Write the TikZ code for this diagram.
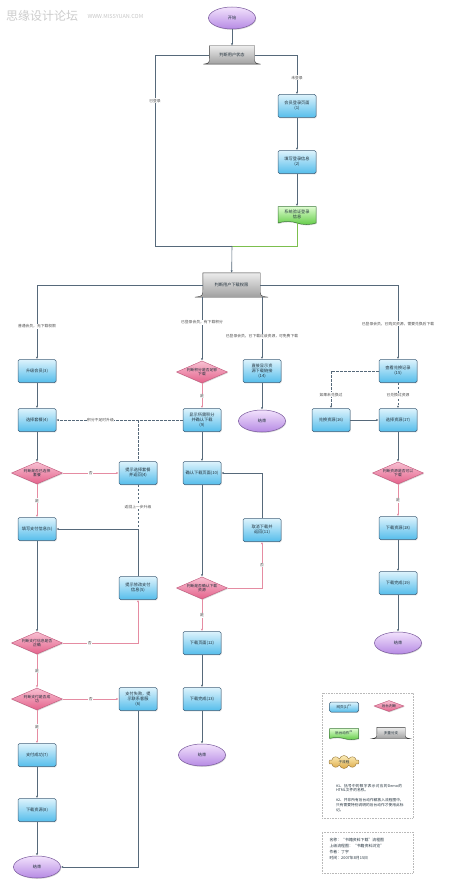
\documentclass[tikz,border=0pt]{standalone}
\usepackage{fontspec}
\setmainfont{Noto Sans CJK SC}
\XeTeXlinebreaklocale "zh"
\XeTeXlinebreakskip=0pt plus 1pt
\usepackage{xcolor}
\usetikzlibrary{arrows.meta, shapes.geometric, shapes.symbols, shadows, backgrounds}

\definecolor{linegray}{HTML}{56697A}
\definecolor{pinkline}{HTML}{E58CA2}
\definecolor{greenline}{HTML}{7CBF4E}
\definecolor{textdark}{HTML}{22313C}
\definecolor{pagetop}{HTML}{DDF3FC}
\definecolor{pagebot}{HTML}{55BDEB}
\definecolor{pageline}{HTML}{40607A}
\definecolor{dectop}{HTML}{F8C0D2}
\definecolor{decbot}{HTML}{E4628B}
\definecolor{decline}{HTML}{BE5578}
\definecolor{termtop}{HTML}{F2E2FC}
\definecolor{termbot}{HTML}{B68AE4}
\definecolor{termline}{HTML}{76569A}
\definecolor{acttop}{HTML}{DDFCCF}
\definecolor{actbot}{HTML}{62CC46}
\definecolor{actline}{HTML}{3C7A38}
\definecolor{subtop}{HTML}{FCEDB8}
\definecolor{subbot}{HTML}{DDAA48}
\definecolor{subline}{HTML}{957538}

\begin{document}
\begin{tikzpicture}[
    x=1pt, y=-1pt,
    every node/.style={font=\fontsize{4.2}{5}\selectfont, text=textdark},
    shade/.style={drop shadow={opacity=0.3, shadow xshift=0.7pt, shadow yshift=-0.9pt}},
    page/.style={draw=pageline, line width=0.5pt, rounded corners=1.5pt, top color=pagetop, bottom color=pagebot, align=center, minimum width=38pt, minimum height=23pt, inner sep=1pt, shade},
    decide/.style={diamond, aspect=2.3, draw=decline, line width=0.4pt, top color=dectop, bottom color=decbot, align=center, minimum width=51pt, minimum height=22pt, inner sep=0.3pt, font=\fontsize{3.8}{4.6}\selectfont, shade},
    term/.style={ellipse, draw=termline, line width=0.5pt, top color=termtop, bottom color=termbot, minimum width=47pt, minimum height=22pt, shade},
    action/.style={tape, tape bend top=none, tape bend bottom=out and in, tape bend height=3pt, draw=actline, line width=0.5pt, top color=acttop, bottom color=actbot, align=center, minimum width=38pt, minimum height=18pt, inner sep=1pt, shade},
    subflow/.style={cloud, cloud puffs=10, aspect=2.6, draw=subline, line width=0.4pt, top color=subtop, bottom color=subbot, minimum width=30pt, minimum height=13pt, inner sep=0pt, font=\fontsize{3.6}{4.2}\selectfont},
    branch/.style={align=center, inner sep=0pt},
    branchfill/.style={draw=gray!45!black, line width=0.4pt, top color=gray!15, bottom color=gray!75},
    lbl/.style={fill=white, inner sep=0.6pt, font=\fontsize{3.8}{4.4}\selectfont, text=gray!60!black},
    line/.style={draw=linegray, line width=0.6pt},
    flow/.style={line, -{Latex[length=2.4pt, width=2.2pt]}},
    okline/.style={draw=greenline, line width=0.6pt},
    yes/.style={draw=pinkline, line width=0.5pt, -{Latex[length=2.4pt, width=2.2pt]}},
    no/.style={yes},
    dline/.style={flow, dashed, dash pattern=on 2.5pt off 1.5pt},
    frame/.style={draw=gray!55, densely dotted, line width=0.6pt, minimum width=91pt},
    note/.style={align=left, text width=68pt, font=\fontsize{3.7}{4.6}\selectfont}
]
\useasboundingbox (0,0) rectangle (450,888);

% watermark
\node[font=\fontsize{12}{12}\selectfont, text=gray!40] (mark) at (42,16) {思缘设计论坛};
\node[font=\fontsize{5.5}{6}\selectfont, text=gray!45, anchor=west] (url) at (84,16.5) {WWW.MISSYUAN.COM};

% top part
\node[term] (start) at (232,18) {开始};
\node[branch, minimum width=45pt, minimum height=18pt] (sel1) at (232,55) {判断用户状态};
\node[page] (p1) at (297,106) {会员登录页面\\(1)};
\node[page] (p2) at (297,162) {填写登录信息\\(2)};
\node[action] (act1) at (297,214) {系统验证登录\\信息};
\node[branch, minimum width=57pt, minimum height=24pt] (sel2) at (231.5,285) {判断用户下载权限};

% left column
\node[page] (l1) at (37,371) {升级会员(3)};
\node[page] (l2) at (37,420) {选择套餐(4)};
\node[decide] (ld1) at (37,473) {判断是否已选择\\套餐};
\node[page] (l4) at (138,473) {提示选择套餐\\并返回(4)};
\node[page] (l3) at (37,529) {填写支付信息(5)};
\node[page] (l5) at (138,588) {提示修改支付\\信息(5)};
\node[decide] (ld2) at (37,643) {判断支付信息是否\\正确};
\node[decide] (ld3) at (37,699) {判断支付是否成\\功};
\node[page] (l6) at (138,699) {支付失败，提\\示联系客服\\(6)};
\node[page] (l7) at (37,755) {支付成功(7)};
\node[page] (l8) at (37,810) {下载资源(8)};
\node[term] (end1) at (37,867) {结束};

% middle columns
\node[decide] (md1) at (202,372) {判断积分是否足够\\下载};
\node[page] (m3) at (202,420) {显示所需积分\\并确认下载\\(9)};
\node[page] (m4) at (202,473) {确认下载页面(10)};
\node[page] (m5) at (262,530) {取消下载并\\返回(11)};
\node[decide] (md2) at (202,588) {判断是否确认下载\\资源};
\node[page] (m6) at (202,643) {下载页面(12)};
\node[page] (m7) at (202,699) {下载完成(13)};
\node[term] (end2) at (202,755) {结束};
\node[page] (m2) at (262,371) {直接显示资\\源下载链接\\(14)};
\node[term] (end3) at (262,421) {结束};

% right column
\node[page] (r1) at (398,371) {查看兑换记录\\(15)};
\node[page] (r2) at (331,420) {兑换资源(16)};
\node[page] (r3) at (398,420) {选择资源(17)};
\node[decide] (rd) at (398,473) {判断资源是否可以\\下载};
\node[page] (r4) at (398,528) {下载资源(18)};
\node[page] (r5) at (398,583) {下载完成(19)};
\node[term] (end4) at (398,643) {结束};

% legend
\node[frame, minimum height=125pt] (legend) at (367.5,755.5) {};
\node[page, minimum width=29pt, minimum height=10pt, font=\fontsize{3.6}{4.2}\selectfont] (lpage) at (344,707) {网页(1)\textsuperscript{\#1}};
\node[decide, minimum width=30pt, minimum height=11pt, font=\fontsize{3.6}{4.2}\selectfont] (ldec) at (389,706) {后台判断};
\node[action, minimum width=29pt, minimum height=11pt, tape bend height=2pt, font=\fontsize{3.6}{4.2}\selectfont] (lact) at (344,733) {后台动作\textsuperscript{\#2}};
\node[branch, minimum width=28pt, minimum height=11pt, font=\fontsize{3.6}{4.2}\selectfont] (lsel) at (391,733) {多重分支};
\node[subflow] (lsub) at (344,762) {子流程};
\node[note] (note1) at (370,788) {\#1、括号中的数字表示对应的Demo的HTML文件的名称。};
\node[note] (note2) at (370,805) {\#2、并非所有后台动作都放入流程图中，只有需要特别说明的后台动作才使用此标记。};
\node[frame, minimum height=41pt] (footer) at (367.5,852.5) {};
\node[align=left, anchor=west, font=\fontsize{3.9}{5.8}\selectfont] (info) at (326,849) {名称：“书籍资料下载”流程图\\上级流程图：“书籍资料浏览”\\作者：丁宇\\时间：2007年8月15日};

% multi-branch shapes
\begin{scope}[on background layer]
\foreach \n/\f in {sel1/6pt, sel2/8pt, lsel/5pt} {
  \path[branchfill] (\n.north west) -- ([yshift=\f]\n.south west)
    .. controls ([yshift=1pt]\n.south west) .. ([xshift=-\f]\n.south west)
    -- ([xshift=\f]\n.south east)
    .. controls ([yshift=1pt]\n.south east) .. ([yshift=\f]\n.south east)
    -- (\n.north east) -- cycle;
}
\end{scope}

% top connectors
\coordinate (merge) at (232,246);
\coordinate (bypass) at (155,246);
\draw[flow] (start) -- (sel1);
\draw[flow] (sel1.east) -| node[lbl, pos=0.79]{未登录} (p1);
\draw[flow] (p1) -- (p2);
\draw[flow] (p2) -- (act1);
\draw[line] (sel1.west) -| node[lbl, pos=0.62]{已登录} (bypass) -- (merge);
\draw[okline] (act1) |- (merge);
\draw[flow] (merge) -- (sel2);

\draw[flow] (sel2.west) -| node[lbl, pos=0.78]{普通会员，无下载权限} (l1);
\draw[flow] (sel2.east) -| node[lbl, pos=0.76]{已登录会员，已购买资源，需要兑换后下载} (r1);
\draw[flow] (sel2.south -| md1) -- node[lbl, pos=0.4]{已登录会员，有下载积分} (md1);
\draw[flow] (sel2.south -| m2) -- node[lbl, pos=0.63]{已登录会员，已下载过该资源，可免费下载} (m2);

% left connectors
\coordinate (jn) at (138,420);
\coordinate (back) at (l5 |- l3);
\draw[flow] (l1) -- (l2);
\draw[flow] (l2) -- (ld1);
\draw[no] (ld1) -- node[lbl]{否} (l4);
\draw[yes] (ld1) -- node[lbl]{是} (l3);
\draw[flow] (l3) -- (ld2);
\draw[flow] (l5) |- (l3);
\draw[line, dashed, dash pattern=on 2.5pt off 1.5pt] (jn) -- (l4);
\draw[line, dashed, dash pattern=on 2.5pt off 1.5pt] (l4) -- node[lbl, pos=0.5]{返回上一步升级} (back);
\draw[no] (ld2.east) -| node[lbl, pos=0.18]{否} (l5);
\draw[yes] (ld2) -- node[lbl]{是} (ld3);
\draw[no] (ld3) -- node[lbl]{否} (l6);
\draw[yes] (ld3) -- node[lbl]{是} (l7);
\draw[flow] (l7) -- (l8);
\draw[flow] (l8) -- (end1);
\draw[flow] (l6) |- (end1);

% middle connectors
\draw[yes] (md1) -- node[lbl]{是} (m3);
\draw[dline] (m3) -- node[lbl, pos=0.65]{积分不足时升级} (l2);
\draw[flow] (m3) -- (m4);
\draw[flow] (m4) -- (md2);
\draw[no] (md2.east) -| node[lbl, pos=0.75]{否} (m5);
\draw[flow] (m5) |- (m4);
\draw[yes] (md2) -- node[lbl]{是} (m6);
\draw[flow] (m6) -- (m7);
\draw[flow] (m7) -- (end2);
\draw[flow] (m2) -- (end3);

% right connectors
\draw[dline] (r1.west) -| node[lbl, pos=0.82]{如果未兑换过} (r2);
\draw[dline] (r1) -- node[lbl]{已兑换过资源} (r3);
\draw[flow] (r2) -- (r3);
\draw[flow] (r3) -- (rd);
\draw[yes] (rd) -- node[lbl]{是} (r4);
\draw[flow] (r4) -- (r5);
\draw[flow] (r5) -- (end4);
\end{tikzpicture}
\end{document}
